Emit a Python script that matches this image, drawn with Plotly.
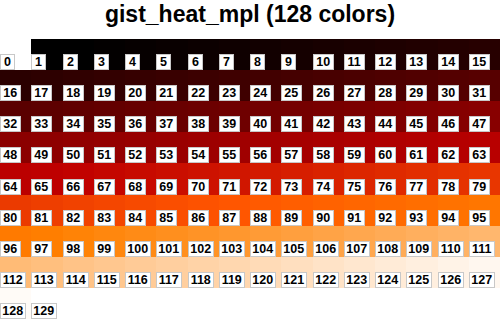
import plotly.graph_objects as go

# Colour table: index 0 = background, 1 = foreground, 2..129 = gist_heat (128 colours)
background_color = "#ffffff"
foreground_color = "#000000"
gist_heat_colors = [
    "#000000", "#030000", "#060000", "#090000", "#0c0000", "#0f0000", "#120000", "#150000",
    "#180000", "#1b0000", "#1e0000", "#210000", "#240000", "#270000", "#2a0000", "#2d0000",
    "#300000", "#330000", "#360000", "#390000", "#3c0000", "#3f0000", "#420000", "#450000",
    "#480000", "#4b0000", "#4e0000", "#510000", "#540000", "#570000", "#5a0000", "#5d0000",
    "#600000", "#630000", "#660000", "#690000", "#6c0000", "#6f0000", "#720000", "#750000",
    "#780000", "#7b0000", "#7e0000", "#820000", "#850000", "#880000", "#8b0000", "#8e0000",
    "#910000", "#940000", "#970000", "#9a0000", "#9d0000", "#a00000", "#a30000", "#a60000",
    "#a90000", "#ac0000", "#af0000", "#b20000", "#b50000", "#b80000", "#bb0000", "#be0000",
    "#c10200", "#c40600", "#c70a00", "#ca0e00", "#cd1200", "#d01600", "#d31a00", "#d61e00",
    "#d92200", "#dc2600", "#df2a00", "#e22e00", "#e53200", "#e83600", "#eb3a00", "#ee3e00",
    "#f14200", "#f44600", "#f74a00", "#fa4e00", "#fd5200", "#ff5600", "#ff5a00", "#ff5e00",
    "#ff6200", "#ff6600", "#ff6a00", "#ff6e00", "#ff7200", "#ff7600", "#ff7a00", "#ff7e00",
    "#ff8306", "#ff870e", "#ff8b16", "#ff8f1e", "#ff9326", "#ff972e", "#ff9b36", "#ff9f3e",
    "#ffa346", "#ffa74e", "#ffab56", "#ffaf5e", "#ffb366", "#ffb76e", "#ffbb76", "#ffbf7e",
    "#ffc387", "#ffc78f", "#ffcb97", "#ffcf9f", "#ffd3a7", "#ffd7af", "#ffdbb7", "#ffdfbf",
    "#ffe3c7", "#ffe7cf", "#ffebd7", "#ffefdf", "#fff3e7", "#fff7ef", "#fffbf7", "#ffffff",
]
all_colors = [background_color, foreground_color] + gist_heat_colors
n_colors = len(all_colors)          # 130
n_cols = 16
n_rows = (n_colors + n_cols - 1) // n_cols   # 9
title_text = "gist_heat_mpl (128 colors)"

# Grid of colour indices
z = []
for r in range(n_rows):
    row = []
    for c in range(n_cols):
        k = r * n_cols + c
        row.append(k if k < n_colors else None)
    z.append(row)

colorscale = [[k / (n_colors - 1), col] for k, col in enumerate(all_colors)]

fig = go.Figure(go.Heatmap(
    z=z,
    x=list(range(n_cols)),
    y=list(range(n_rows)),
    colorscale=colorscale,
    zmin=0, zmax=n_colors - 1,
    showscale=False,
    hoverinfo="skip",
    xgap=0, ygap=0,
))

box_widths = {1: 13, 2: 18.5, 3: 23.5}
annotations = []
for k in range(n_colors):
    r, c = divmod(k, n_cols)
    label = str(k)
    annotations.append(dict(
        x=c - 0.5, y=r + 0.5, xref="x", yref="y",
        xanchor="left", yanchor="bottom",
        text=label, showarrow=False,
        font=dict(family="Liberation Sans, Arial, sans-serif", size=12.5,
                  color="#000000", weight="bold"),
        bgcolor="#ffffff", bordercolor="#c8c8c8", borderwidth=1, borderpad=0,
        width=box_widths[len(label)], height=14,
        align="center",
    ))

fig.update_layout(
    width=500, height=320, autosize=False,
    margin=dict(l=0, r=0, t=38.5, b=0.5, pad=0),
    paper_bgcolor="#ffffff", plot_bgcolor="#ffffff",
    title=dict(text=title_text, x=0.5, xanchor="center", xref="container",
               y=1 - 13.5 / 320, yanchor="middle", yref="container",
               font=dict(family="Liberation Sans, Arial, sans-serif", size=23,
                         color="#000000", weight="bold")),
    xaxis=dict(range=[-0.5, n_cols - 0.5], visible=False, fixedrange=True),
    yaxis=dict(range=[n_rows - 0.5, -0.5], visible=False, fixedrange=True),
    annotations=annotations,
    showlegend=False,
)

fig.write_html("out.html")
